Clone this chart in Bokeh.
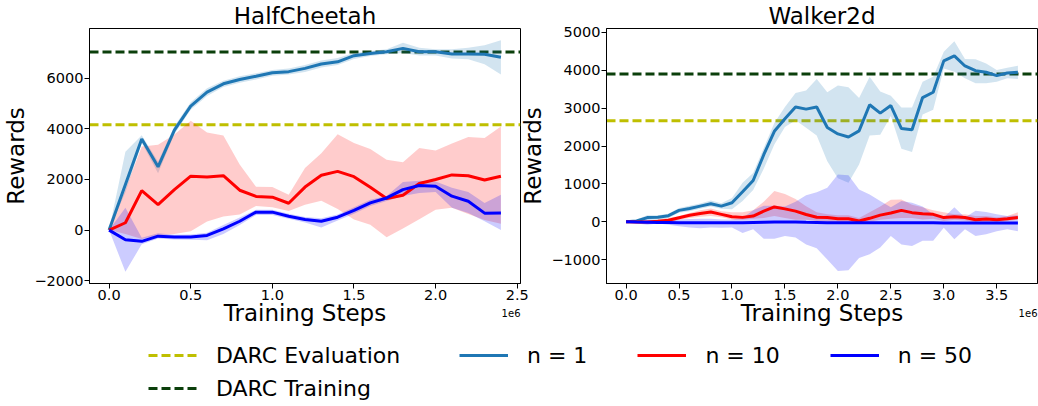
from bokeh.plotting import figure
from bokeh.models import Range1d, Span, Label, Legend, LegendItem, FixedTicker, PrintfTickFormatter
from bokeh.layouts import column, row
from bokeh.embed import file_html
from bokeh.resources import INLINE

# ---------------- data ----------------
titles = ["HalfCheetah", "Walker2d"]
darc_eval = [4160, 2670]
darc_train = [7040, 3900]

hc_steps = [0.0, 0.1, 0.2, 0.3, 0.4, 0.5, 0.6, 0.7, 0.8, 0.9, 1.0, 1.1, 1.2,
            1.3, 1.4, 1.5, 1.6, 1.7, 1.8, 1.9, 2.0, 2.1, 2.2, 2.3, 2.4]
hc_n1 = [0, 1800, 3600, 2500, 3950, 4900, 5450, 5780, 5950, 6080, 6220, 6260, 6390,
         6560, 6650, 6890, 6980, 7050, 7180, 7050, 7050, 6960, 6960, 6950, 6830]
hc_n1_lo = [0, 1500, 3450, 2250, 3800, 4750, 5300, 5650, 5820, 5950, 6100, 6150, 6250,
            6420, 6520, 6760, 6880, 6950, 7000, 6900, 6900, 6780, 6750, 6550, 6150]
hc_n1_hi = [0, 3100, 3750, 2700, 4100, 5050, 5600, 5900, 6080, 6200, 6330, 6380, 6520,
            6700, 6800, 7000, 7080, 7150, 7400, 7200, 7150, 7150, 7200, 7300, 7500]
hc_n10 = [0, 290, 1560, 1010, 1600, 2130, 2100, 2150, 1575, 1330, 1300, 1060, 1700,
          2165, 2320, 2110, 1690, 1250, 1380, 1840, 2000, 2180, 2150, 1980, 2130]
hc_n10_lo = [0, -150, -350, -200, -150, -50, 340, 540, 620, 950, 900, 750, 1000,
             1160, 830, 420, 210, -280, 60, 430, 800, 880, 640, 400, 250]
hc_n10_hi = [0, 1600, 3300, 3370, 3780, 4320, 3860, 3740, 2590, 1710, 1700, 1400, 2450,
             3040, 3790, 3440, 3200, 2780, 2680, 3240, 3140, 3425, 3675, 3640, 4090]
hc_n50 = [0, -380, -445, -240, -275, -275, -210, 50, 350, 710, 710, 550, 420,
          350, 510, 775, 1075, 1270, 1600, 1760, 1730, 1340, 1140, 670, 680]
hc_n50_lo = [0, -1650, -560, -330, -370, -380, -400, -150, 200, 600, 600, 450, 300,
             100, 380, 650, 950, 1150, 1350, 1470, 1510, 880, 680, 350, 0]
hc_n50_hi = [0, 880, -300, -120, -180, -170, -100, 200, 500, 800, 800, 650, 520,
             470, 620, 900, 1200, 1350, 1900, 1950, 1920, 1670, 1510, 1075, 1400]

wk_steps = [0.0, 0.1, 0.2, 0.3, 0.4, 0.5, 0.6, 0.7, 0.8, 0.9, 1.0, 1.1, 1.2, 1.3,
            1.4, 1.5, 1.6, 1.7, 1.8, 1.9, 2.0, 2.1, 2.2, 2.3, 2.4, 2.5, 2.6, 2.7,
            2.8, 2.9, 3.0, 3.1, 3.2, 3.3, 3.4, 3.5, 3.6, 3.7]
wk_n1 = [0, 20, 110, 120, 160, 300, 350, 413, 475, 413, 500, 790, 1090, 1770,
         2390, 2720, 3030, 2975, 3030, 2490, 2320, 2240, 2400, 3090, 2870, 3070, 2460, 2430,
         3280, 3420, 4250, 4380, 4115, 3990, 3950, 3860, 3930, 3950]
wk_n1_lo = [0, -20, 50, 60, 100, 240, 280, 340, 400, 340, 330, 550, 840, 1400,
            2040, 2500, 2680, 2480, 2280, 1600, 1150, 1030, 1510, 2280, 2300, 2790, 1930, 1840,
            2830, 2960, 4050, 3960, 3790, 3660, 3660, 3700, 3790, 3770]
wk_n1_hi = [0, 60, 170, 170, 210, 360, 420, 480, 560, 490, 630, 1030, 1290, 1950,
            2610, 3030, 3400, 3470, 3770, 3420, 3600, 3550, 3270, 3830, 3440, 3330, 3020, 3020,
            3700, 3830, 4490, 4770, 4300, 4290, 4180, 4010, 4070, 4120]
wk_n10 = [0, -5, -10, 10, 40, 105, 170, 220, 255, 195, 130, 115, 150, 280,
          390, 340, 280, 190, 120, 110, 80, 80, 20, 90, 175, 230, 300, 240,
          210, 195, 110, 130, 110, 50, 70, 50, 80, 115]
wk_n10_lo = [0, -30, -40, -30, -20, 50, 100, 130, 150, 120, 60, 50, 80, 100,
             150, 100, 50, 50, 20, 0, -20, -20, -50, 0, 50, 80, 100, 100,
             60, 80, 20, 50, 30, -20, -10, -20, 20, 50]
wk_n10_hi = [0, 20, 30, 60, 100, 150, 230, 300, 350, 280, 250, 250, 300, 530,
             810, 730, 600, 410, 250, 200, 170, 170, 100, 250, 400, 580, 590, 450,
             380, 300, 250, 200, 200, 150, 150, 120, 150, 250]
wk_n50 = [0, -10, -15, -20, -20, -25, -25, -25, -25, -25, -25, -25, -20, -15,
          -10, -10, -5, -15, -20, -25, -30, -30, -30, -30, -30, -30, -30, -30,
          -30, -30, -35, -35, -35, -35, -35, -35, -35, -35]
wk_n50_lo = [0, -50, -80, -50, -80, -120, -150, -170, -150, -160, -150, -300, -200, -450,
             -450, -380, -420, -600, -700, -1000, -1300, -1280, -960, -860, -680, -375, -600, -640,
             -500, -500, -160, -460, -200, -380, -330, -250, -200, -250]
wk_n50_hi = [0, 30, 60, 40, 50, 60, 70, 80, 80, 60, 60, 100, 300, 420,
             420, 400, 530, 700, 780, 900, 1250, 1230, 850, 720, 545, 380, 545, 500,
             400, 195, 110, 380, 110, 290, 260, 195, 150, 170]

hc_xticks = [0.0, 0.5, 1.0, 1.5, 2.0, 2.5]
wk_xticks = [0.0, 0.5, 1.0, 1.5, 2.0, 2.5, 3.0, 3.5]
hc_yticks = [-2000, 0, 2000, 4000, 6000]
wk_yticks = [-1000, 0, 1000, 2000, 3000, 4000, 5000]
x_offset_text = "1e6"

series_labels = ["n = 1", "n = 10", "n = 50"]
series_colors = ["#1f77b4", "#ff0000", "#0000ff"]
C_EVAL = "#bfbf00"
C_TRAIN = "#0b3f0b"
FONT = "DejaVu Sans"


def make_panel(title, steps, series, xr, yr, xticks, yticks, ev, tr, width, bl, br, margin):
    p = figure(width=width, height=332, title=title, output_backend="svg",
               toolbar_location=None, x_range=Range1d(*xr), y_range=Range1d(*yr),
               min_border_left=bl, min_border_right=br, min_border_top=27,
               min_border_bottom=49, margin=margin)
    p.border_fill_alpha = 0
    p.title.text_font = FONT
    p.title.text_font_size = "23px"
    p.title.text_font_style = "normal"
    p.title.text_color = "black"
    p.title.align = "center"
    p.title.standoff = 0
    p.title.offset = 0
    p.grid.visible = False
    p.outline_line_color = "black"
    p.outline_line_alpha = 1
    p.outline_line_width = 1
    for ax in (p.xaxis[0], p.yaxis[0]):
        ax.major_tick_in = 0
        ax.major_tick_out = 5
        ax.minor_tick_line_color = None
        ax.major_label_text_font = FONT
        ax.major_label_text_font_size = "14.5px"
        ax.major_label_text_color = "black"
        ax.axis_label_text_font = FONT
        ax.axis_label_text_font_size = "23px"
        ax.axis_label_text_font_style = "normal"
        ax.axis_label_text_color = "black"
        ax.axis_line_color = "black"
        ax.major_label_standoff = 1
    p.xaxis.axis_label_standoff = -3
    p.yaxis.axis_label_standoff = 2
    p.xaxis.axis_label = "Training Steps"
    p.yaxis.axis_label = "Rewards"
    p.xaxis.ticker = FixedTicker(ticks=xticks)
    p.xaxis.formatter = PrintfTickFormatter(format="%.1f")
    p.yaxis.ticker = FixedTicker(ticks=yticks)
    p.yaxis.major_label_overrides = {t: ("\u2212" + str(-t)) for t in yticks if t < 0}

    p.add_layout(Span(location=ev, dimension="width", line_color=C_EVAL,
                      line_width=3, line_dash="9 4", level="underlay"))
    p.add_layout(Span(location=tr, dimension="width", line_color=C_TRAIN,
                      line_width=3, line_dash="9 4", level="underlay"))

    for (mean, lo, hi), c in zip(series, series_colors):
        p.varea(x=steps, y1=lo, y2=hi, fill_color=c, fill_alpha=0.2)
    for (mean, lo, hi), c in zip(series, series_colors):
        p.line(x=steps, y=mean, line_color=c, line_width=3)
    return p


# left panel: frame x 89..520 ; right panel: frame x 606..1037 (overlapping transparent borders)
p1 = make_panel(titles[0], hc_steps,
                [(hc_n1, hc_n1_lo, hc_n1_hi), (hc_n10, hc_n10_lo, hc_n10_hi),
                 (hc_n50, hc_n50_lo, hc_n50_hi)],
                (-0.12, 2.52), (-2110, 7965), hc_xticks, hc_yticks,
                darc_eval[0], darc_train[0], 535, 89, 15, (0, 0, 0, 0))
p2 = make_panel(titles[1], wk_steps,
                [(wk_n1, wk_n1_lo, wk_n1_hi), (wk_n10, wk_n10_lo, wk_n10_hi),
                 (wk_n50, wk_n50_lo, wk_n50_hi)],
                (-0.185, 3.885), (-1632, 5105), wk_xticks, wk_yticks,
                darc_eval[1], darc_train[1], 522, 90, 1, (0, 0, 0, -19))

# ---------------- legend strip (transparent, overlaps the lower border of the panels) ----------------
pleg = figure(width=1038, height=104, output_backend="svg", toolbar_location=None,
              x_range=Range1d(0, 1), y_range=Range1d(0, 1),
              x_axis_location=None, y_axis_location=None,
              min_border=0, min_border_left=0, min_border_right=0,
              min_border_top=0, min_border_bottom=0, margin=(-30, 0, 0, 0))
pleg.grid.visible = False
pleg.outline_line_color = None
pleg.border_fill_alpha = 0
pleg.background_fill_alpha = 0

# legend-only renderers: their points lie outside the visible range
off = [5, 6]
r_eval = pleg.line(x=off, y=off, line_color=C_EVAL, line_width=3, line_dash="9 4")
r_train = pleg.line(x=off, y=off, line_color=C_TRAIN, line_width=3, line_dash="9 4")
r_series = [pleg.line(x=off, y=off, line_color=c, line_width=3) for c in series_colors]

common = dict(padding=0, margin=0, border_line_color=None, background_fill_alpha=0,
              label_text_font=FONT, label_text_font_size="22px", label_text_color="black",
              glyph_width=49, glyph_height=26, label_height=26, label_standoff=19)
leg1 = Legend(items=[LegendItem(label="DARC Evaluation", renderers=[r_eval]),
                     LegendItem(label="DARC Training", renderers=[r_train])],
              location=(148, 5), orientation="vertical", spacing=7, **common)
leg2 = Legend(items=[LegendItem(label=l, renderers=[r]) for l, r in zip(series_labels, r_series)],
              location=(459, 38), orientation="horizontal", spacing=50, **common)
pleg.add_layout(leg1)
pleg.add_layout(leg2)

# axis offset texts ("1e6") under the right end of each x axis
for xs in (520, 1037):
    pleg.add_layout(Label(x=xs, y=94, x_units="screen", y_units="screen", text=x_offset_text,
                          text_align="right", text_baseline="middle",
                          text_font=FONT, text_font_size="10px", text_color="black"))

layout = column(row(p1, p2), pleg)
open("out.html", "w").write(file_html(layout, INLINE))
